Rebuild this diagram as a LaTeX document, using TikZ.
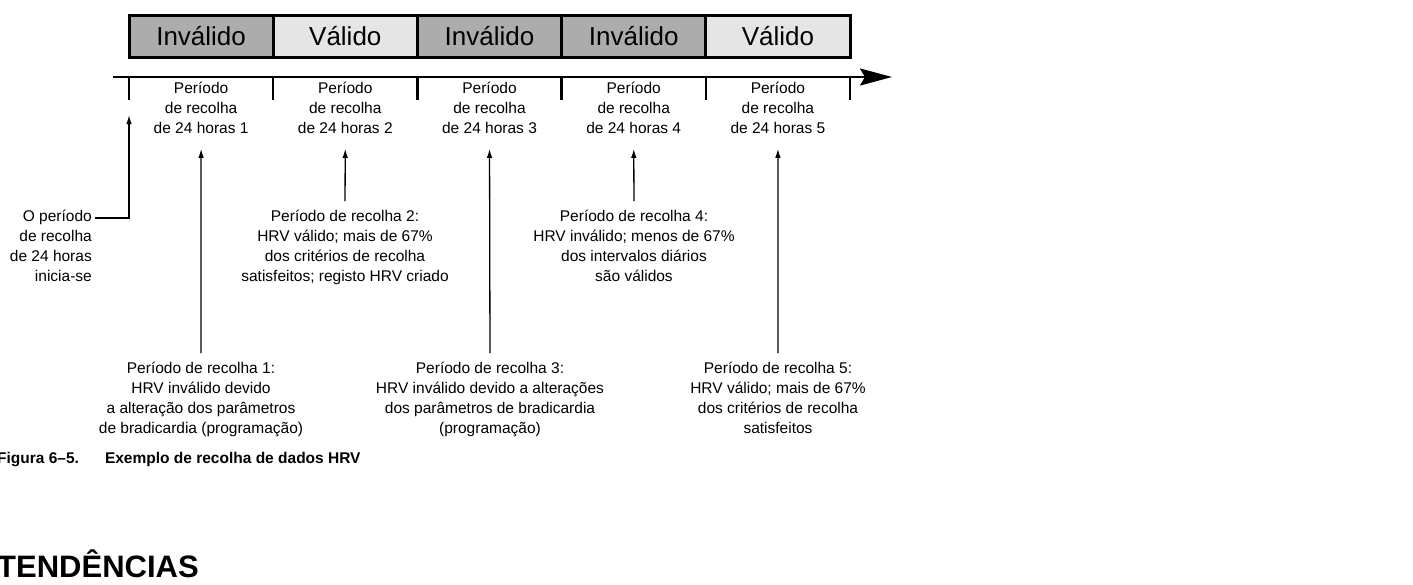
\documentclass[tikz,border=0pt]{standalone}
\usepackage{fontspec}
\setmainfont{Liberation Sans}
\usetikzlibrary{positioning,arrows.meta,calc}

\begin{document}
\begin{tikzpicture}[
  x=1pt, y=-1pt,
  every node/.style={font=\fontsize{15.5}{19.8}\selectfont, inner sep=0pt},
  cell/.style={draw, line width=3pt, minimum width=144.2pt, minimum height=42pt,
    font=\fontsize{26}{30}\selectfont},
  invalido/.style={cell, fill=gray!65},
  valido/.style={cell, fill=gray!20},
  note/.style={align=center, anchor=north},
  marker/.style={-{Latex[length=9pt,width=5.5pt]}, line width=1.3pt,
    shorten <=9pt, shorten >=15pt}
]
\useasboundingbox (0,0) rectangle (1413,584);
% barra de estado
\foreach \i/\kind/\txt in {1/invalido/Inválido, 2/valido/Válido, 3/invalido/Inválido,
    4/invalido/Inválido, 5/valido/Válido}
  \node[\kind] (c\i) at ({129+144.2*(\i-0.5)},36) {\txt};
% eixo do tempo
\coordinate (a0) at (113,77);
\coordinate (a1) at (892,77);
\draw[line width=2.5pt, -{Stealth[length=32pt,width=17pt,inset=5pt]}] (a0) -- (a1);
\foreach \k in {0,...,5}{
  \coordinate (k\k) at ({129+144.2*\k},100);
  \draw[line width=2.5pt] ({129+144.2*\k},77) -- (k\k);
}
% periodos
\foreach \i in {1,...,5}
  \node[align=center] (p\i) at ({129+144.2*(\i-0.5)},108) {Período\\de recolha\\de 24 horas \i};
% notas
\node[note, anchor=north east, align=right] (s) at (92,210) {O período\\de recolha\\de 24 horas\\inicia-se};
\node[note] (n1) at (201,362) {Período de recolha 1:\\HRV inválido devido\\a alteração dos parâmetros\\de bradicardia (programação)};
\node[note] (n2) at (345,210) {Período de recolha 2:\\HRV válido; mais de 67\%\\dos critérios de recolha\\satisfeitos; registo HRV criado};
\node[note] (n3) at (490,362) {Período de recolha 3:\\HRV inválido devido a alterações\\dos parâmetros de bradicardia\\(programação)};
\node[note] (n4) at (634,210) {Período de recolha 4:\\HRV inválido; menos de 67\%\\dos intervalos diários\\são válidos};
\node[note] (n5) at (778,362) {Período de recolha 5:\\HRV válido; mais de 67\%\\dos critérios de recolha\\satisfeitos};
\draw[marker, shorten <=3pt] ($(s.north east)+(0,8)$) -| (k0);
\foreach \i in {1,...,5}
  \draw[marker] (n\i.north) -- (p\i.south);
% legenda
\node[anchor=west, font=\bfseries\fontsize{15.5}{18}\selectfont] (cap) at (-3,460)
  {Figura 6–5.\hspace{26pt}Exemplo de recolha de dados HRV};
\node[anchor=west, font=\bfseries\fontsize{31}{35}\selectfont] (sec) at (-3,564) {TENDÊNCIAS};
\end{tikzpicture}
\end{document}
